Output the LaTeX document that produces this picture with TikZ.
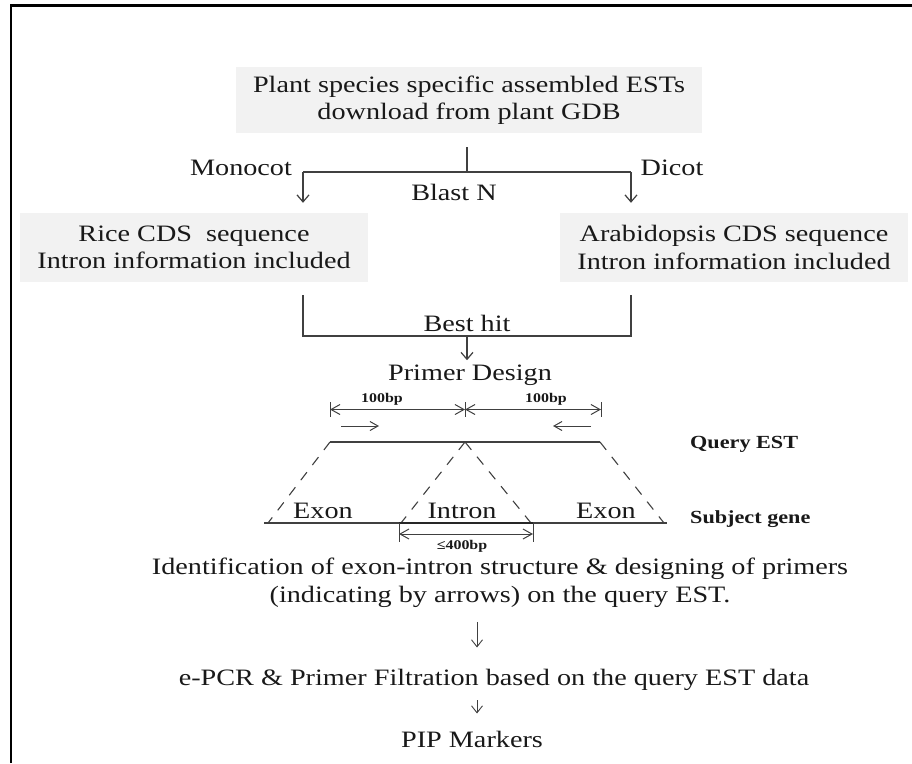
\documentclass[tikz,border=0pt]{standalone}
\usepackage{fontspec}
\setmainfont{Liberation Serif}[FakeStretch=1.2]
\usetikzlibrary{arrows.meta}
\definecolor{boxgray}{HTML}{F2F2F2}
\definecolor{ln}{HTML}{404040}
\begin{document}
\begin{tikzpicture}[x=1pt,y=-1pt,
  every node/.style={inner sep=0pt, text=black!90},
  main/.style={font=\fontsize{23.5}{27.5}\selectfont, align=center},
  box/.style={main, fill=boxgray},
  lbl/.style={font=\bfseries\fontsize{18.5}{22}\selectfont},
  small/.style={font=\bfseries\fontsize{13.3}{16}\selectfont},
  conn/.style={draw=ln, line width=1.2pt},
  arr/.style={conn, -{Straight Barb[length=7pt,width=12pt]}},
  downarr/.style={conn, line width=0.9pt, -{Straight Barb[length=7pt,width=11pt]}},
  primer/.style={conn, line width=1pt, -{Straight Barb[length=8pt,width=9pt]}},
  dim/.style={conn, line width=1pt, {Straight Barb[length=9pt,width=10pt]}-{Straight Barb[length=9pt,width=10pt]}},
  tick/.style={conn, line width=1pt},
  dashline/.style={draw=ln, line width=1.1pt, dash pattern=on 10pt off 9pt},
]
\useasboundingbox (0,0) rectangle (912,763);
% frame
\draw[line width=2.2pt, black] (11,763) -- (11,5.5) -- (912,5.5);

% top box and split
\node[box, minimum width=466pt, minimum height=66pt] (top) at (469,100)
  {Plant species specific assembled ESTs\\download from plant GDB};
\coordinate (split) at (467,172);
\coordinate (lsplit) at (303,172);
\coordinate (rsplit) at (631,172);
\node[main, anchor=base] (mono) at (241,175) {Monocot};
\node[main, anchor=base] (dicot) at (672,175) {Dicot};
\node[main, anchor=base] (blast) at (454,200) {Blast N};

\node[box, minimum width=348pt, minimum height=69pt] (left) at (194,247.5)
  {Rice CDS\ \ sequence\\Intron information included};
\node[box, minimum width=348pt, minimum height=69pt] (right) at (734,247.5)
  {Arabidopsis CDS sequence\\Intron information included};

\draw[conn, shorten <=14pt] (top.south -| split) -- (split);
\draw[conn] (lsplit) -- (rsplit);
\draw[arr, shorten >=10pt] (lsplit) -- (lsplit |- left.north);
\draw[arr, shorten >=10pt] (rsplit) -- (rsplit |- right.north);

% merge
\coordinate (lmerge) at (303,336);
\coordinate (rmerge) at (631,336);
\coordinate (merge) at (467,336);
\draw[conn, shorten <=13pt, shorten >=13pt] (left.south -| lmerge) -- (lmerge) -- (rmerge) -- (right.south -| rmerge);
\node[main, anchor=base] (best) at (467,331) {Best hit};
\node[main, anchor=base] (pd) at (470,380) {Primer Design};
\draw[arr, shorten >=4pt] (merge) -- (merge |- pd.north);

% primer design diagram
\coordinate (q1) at (330,442);
\coordinate (q2) at (465,442);
\coordinate (q3) at (600,442);
\coordinate (s1) at (264,523);
\coordinate (s4) at (667,523);
\coordinate (i1) at (399,523);
\coordinate (i2) at (533,523);

\node[small, anchor=base] (bpl) at (382,402) {100bp};
\node[small, anchor=base] (bpr) at (546,402) {100bp};
\draw[tick] (330,402) -- (330,417);
\draw[tick] (465,402) -- (465,417);
\draw[tick] (601,402) -- (601,417);
\draw[dim] (330,409.5) -- (465,409.5);
\draw[dim] (465,409.5) -- (601,409.5);

\draw[primer] (341,426) -- (379,426);
\draw[primer] (591,426) -- (553,426);

\draw[conn] (q1) -- (q3);
\node[lbl, anchor=base west] (qest) at (690,448) {Query EST};

\draw[dashline] (q1) -- (268,523);
\draw[dashline] (q2) -- (401,523);
\draw[dashline] (q2) -- (531,523);
\draw[dashline] (q3) -- (664,523);

\draw[conn] (s1) -- (s4);
\draw[draw=black!85, line width=2.8pt] (i1) -- (i2);
\node[lbl, anchor=base west] (sgene) at (690,523) {Subject gene};

\node[main, anchor=base] (exon1) at (323,518) {Exon};
\node[main, anchor=base] (intron) at (462,518) {Intron};
\node[main, anchor=base] (exon2) at (606,518) {Exon};

\draw[tick] (i1) -- (399,542);
\draw[tick] (i2) -- (533,542);
\draw[dim] (399,534) -- (533,534);
\node[small, anchor=base] (le) at (462,549) {≤400bp};

% bottom
\node[main] (ident) at (500,583)
  {Identification of exon-intron structure \& designing of primers\\(indicating by arrows) on the query EST.};
\node[main, anchor=base] (epcr) at (494,685) {e-PCR \& Primer Filtration based on the query EST data};
\node[main, anchor=base] (pip) at (472,747) {PIP Markers};
\coordinate (ax) at (477,0);
\draw[downarr, shorten <=14pt, shorten >=21pt] (ident.south -| ax) -- (epcr.north -| ax);
\draw[downarr, shorten <=10pt, shorten >=17pt] (epcr.south -| ax) -- (pip.north -| ax);
\end{tikzpicture}
\end{document}
